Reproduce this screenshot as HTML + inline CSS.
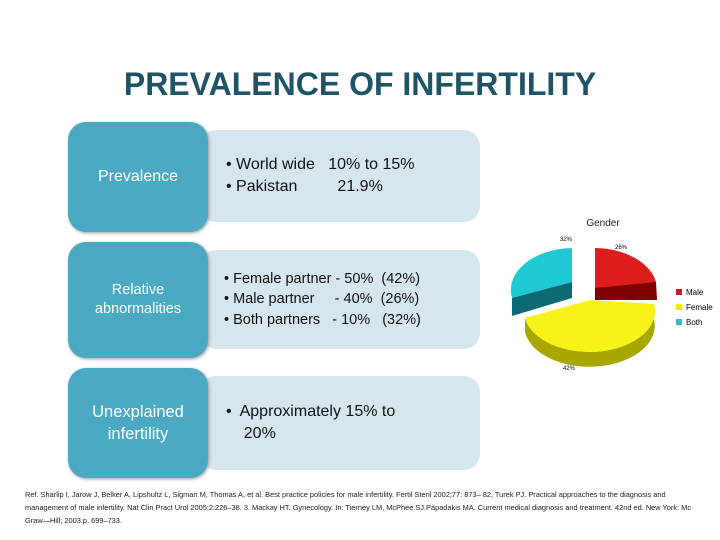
<!DOCTYPE html><html><head><style>
body{margin:0;width:720px;height:540px;background:#fff;position:relative;overflow:hidden;font-family:"Liberation Sans","DejaVu Sans",sans-serif}
.t{position:absolute;left:0;width:720px;top:66px;text-align:center;font-size:32px;font-weight:bold;color:#1f5466}
.l{position:absolute;left:68px;width:140px;background:#4ba9c4;border-radius:18px;color:#fff;display:flex;align-items:center;justify-content:center;text-align:center;box-shadow:1px 1px 3px #999}
.r{position:absolute;left:200px;width:280px;background:#d6e6ed;border-radius:16px;color:#111;display:flex;align-items:center;padding-left:26px;box-sizing:border-box;line-height:1.4}
.f{position:absolute;left:25px;top:488px;width:670px;font-size:7.4px;line-height:13px;color:#222}
</style></head><body>
<div class="t">PREVALENCE OF INFERTILITY</div>
<div class="r" style="top:130px;height:92px;font-size:16px">• World wide&nbsp;&nbsp; 10% to 15%<br>• Pakistan&nbsp;&nbsp;&nbsp;&nbsp;&nbsp;&nbsp;&nbsp;&nbsp; 21.9%</div>
<div class="r" style="top:250px;height:99px;font-size:14.5px;padding-left:24px">• Female partner - 50%&nbsp; (42%)<br>• Male partner&nbsp;&nbsp;&nbsp;&nbsp; - 40%&nbsp; (26%)<br>• Both partners&nbsp;&nbsp; - 10%&nbsp;&nbsp; (32%)</div>
<div class="r" style="top:376px;height:94px;font-size:16px;line-height:1.35"><div style="padding-left:0">•&nbsp; Approximately 15% to<br>&nbsp;&nbsp;&nbsp; 20%</div></div>
<div class="l" style="top:122px;height:110px;font-size:16px">Prevalence</div>
<div class="l" style="top:242px;height:116px;font-size:14.5px;line-height:1.3">Relative<br>abnormalities</div>
<div class="l" style="top:368px;height:110px;font-size:16.5px;line-height:1.35">Unexplained<br>infertility</div>
<svg style="position:absolute;left:490px;top:210px" width="230" height="170">
<text x="113" y="16" font-size="10" text-anchor="middle" font-family="Liberation Sans" fill="#222">Gender</text>
<text x="70" y="31" font-size="6" font-family="Liberation Sans">32%</text>
<text x="125" y="39" font-size="6" font-family="Liberation Sans">26%</text>
<text x="73" y="160" font-size="6" font-family="Liberation Sans">42%</text>
<path d="M105 38 L105 78 A63 42 0 0 0 166 84 L166 72 A63 42 0 0 0 105 38Z" fill="#dd1c1c"/>
<path d="M105 78 L166 72 L167 90 L105 90Z" fill="#800000"/>
<path d="M82 38 L82 72 L22 88 A63 42 0 0 1 82 38Z" fill="#1fc9d4"/>
<path d="M82 72 L22 88 L22 106 L82 88Z" fill="#0b6a73"/>
<path d="M35 108 A64 40 0 1 0 164 94 L164 110 A64 40 0 0 1 35 122Z" fill="#a7a700"/>
<path d="M35 108 L100 90 L164 94 A64 40 0 1 1 35 108Z" fill="#f7f218"/>
<rect x="186" y="79" width="6" height="6" fill="#b22"/><text x="196" y="85" font-size="8" font-family="Liberation Sans">Male</text>
<rect x="186" y="94" width="6" height="6" fill="#ee0"/><text x="196" y="100" font-size="8" font-family="Liberation Sans">Female</text>
<rect x="186" y="109" width="6" height="6" fill="#3bc"/><text x="196" y="115" font-size="8" font-family="Liberation Sans">Both</text>
</svg>
<div class="f">Ref. Sharlip I, Jarow J, Belker A, Lipshultz L, Sigman M, Thomas A, et al. Best practice policies for male infertility. Fertil Steril 2002;77: 873– 82, Turek PJ. Practical approaches to the diagnosis and management of male infertility. Nat Clin Pract Urol 2005;2:226–38. 3. Mackay HT. Gynecology. In: Tierney LM, McPhee SJ.Papadakis MA. Current medical diagnosis and treatment. 42nd ed. New York: Mc Graw—Hill; 2003.p. 699–733.</div>
</body></html>
